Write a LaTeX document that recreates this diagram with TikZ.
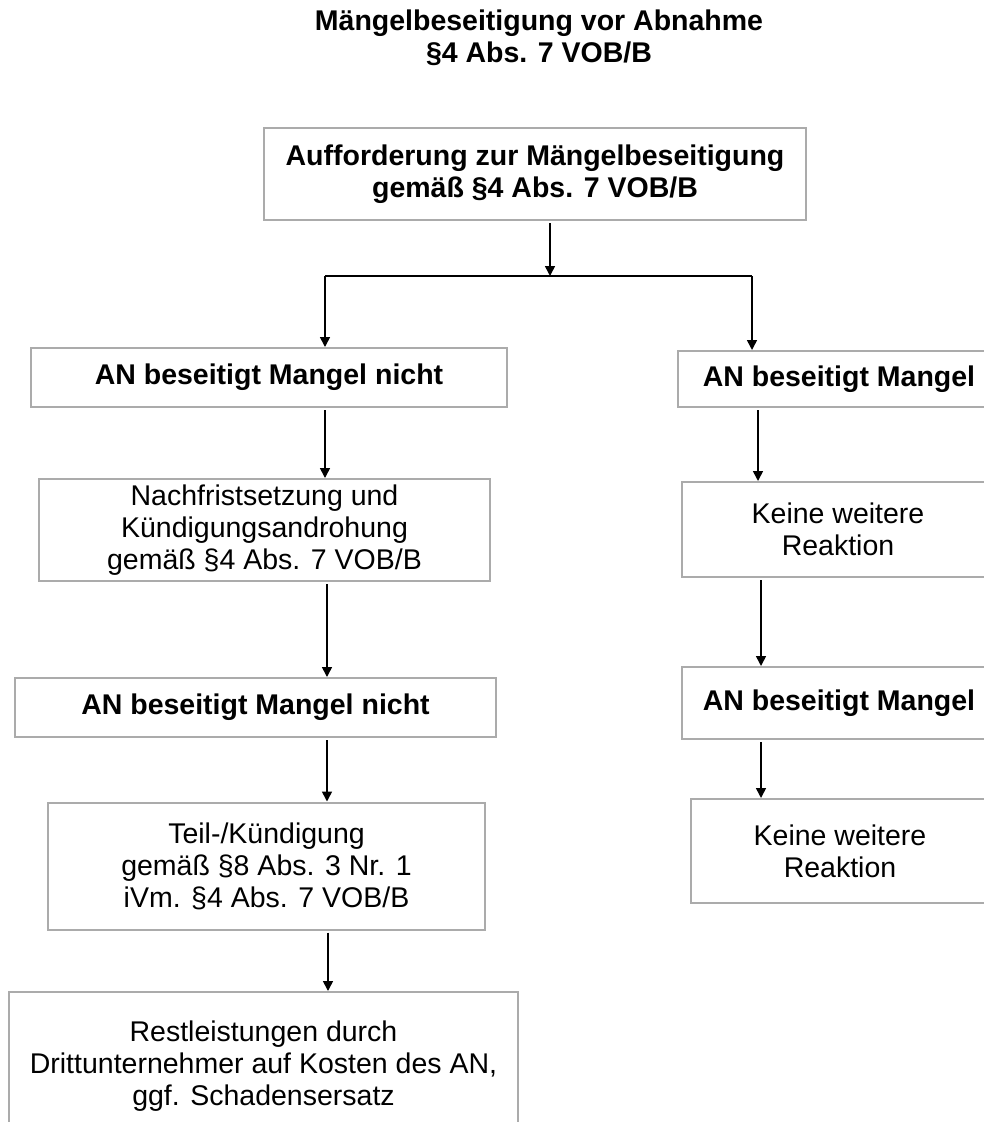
\documentclass[tikz,border=0pt]{standalone}
\usepackage{fontspec}
\setmainfont{Liberation Sans}
\usetikzlibrary{arrows.meta}
\definecolor{boxgray}{HTML}{ABABAB}
\tikzset{
  flowbox/.style={draw=boxgray, line width=2pt, rectangle, inner sep=0pt, align=center,
    font=\fontsize{28.5}{32}\selectfont},
  boldbox/.style={flowbox, font=\fontsize{28.5}{32}\selectfont\bfseries},
  arr/.style={draw=black, line width=1.6pt, -{Triangle[length=10pt,width=10pt]}},
  plainline/.style={draw=black, line width=1.6pt}
}
\begin{document}
\begin{tikzpicture}[x=1pt,y=-1pt]
\useasboundingbox (0,0) rectangle (984,1122);
\clip (0,0) rectangle (984,1122);
\fill[white] (0,0) rectangle (984,1122);

% title
\node[align=center, inner sep=0pt, font=\fontsize{28.5}{32}\selectfont\bfseries] (title) at (539,38)
  {Mängelbeseitigung vor Abnahme\\§4 Abs. 7 VOB/B};

% top box
\node[boldbox, minimum width=542pt, minimum height=92pt] (top) at (535,174)
  {Aufforderung zur Mängelbeseitigung\\gemäß §4 Abs. 7 VOB/B};

% left column
\node[boldbox, minimum width=476pt, minimum height=59pt] (l1) at (269,377.5) {AN beseitigt Mangel nicht};
\node[flowbox, minimum width=451pt, minimum height=102pt] (l2) at (264.5,530)
  {Nachfristsetzung und\\Kündigungsandrohung\\gemäß §4 Abs. 7 VOB/B};
\node[boldbox, minimum width=481pt, minimum height=59pt] (l3) at (255.5,707.5) {AN beseitigt Mangel nicht};
\node[flowbox, minimum width=437pt, minimum height=127pt] (l4) at (266.5,866)
  {Teil-/Kündigung\\gemäß §8 Abs. 3 Nr. 1\\iVm. §4 Abs. 7 VOB/B};
\node[flowbox, minimum width=509pt, minimum height=149pt] (l5) at (263.5,1066.5)
  {Restleistungen durch\\Drittunternehmer auf Kosten des AN,\\ggf. Schadensersatz};

% right column
\node[boldbox, minimum width=322pt, minimum height=56pt] (r1) at (839,379) {AN beseitigt Mangel};
\node[flowbox, minimum width=312pt, minimum height=95pt] (r2) at (838,529.5) {Keine weitere\\Reaktion};
\node[boldbox, minimum width=314pt, minimum height=72pt] (r3) at (839,703) {AN beseitigt Mangel};
\node[flowbox, minimum width=298pt, minimum height=104pt] (r4) at (840,851) {Keine weitere\\Reaktion};

% connector coordinates
\coordinate (jc) at (550,276);
\coordinate (jl) at (325,276);
\coordinate (jr) at (752,276);
\coordinate (xl1) at (325,0);
\coordinate (xl2) at (327,0);
\coordinate (xl3) at (328,0);
\coordinate (xr1) at (758,0);
\coordinate (xr2) at (761,0);

\draw[arr] ([yshift=-2pt]top.south -| jc) -- (jc);
\draw[plainline] (jl) -- (jr);
\draw[arr] (jl) -- (l1.north -| jl);
\draw[arr] (jr) -- (r1.north -| jr);

\draw[arr] ([yshift=-2pt]l1.south -| xl1) -- (l2.north -| xl1);
\draw[arr] ([yshift=-2pt]l2.south -| xl2) -- (l3.north -| xl2);
\draw[arr] ([yshift=-2pt]l3.south -| xl2) -- (l4.north -| xl2);
\draw[arr] ([yshift=-2pt]l4.south -| xl3) -- (l5.north -| xl3);

\draw[arr] ([yshift=-2pt]r1.south -| xr1) -- (r2.north -| xr1);
\draw[arr] ([yshift=-2pt]r2.south -| xr2) -- (r3.north -| xr2);
\draw[arr] ([yshift=-2pt]r3.south -| xr2) -- (r4.north -| xr2);
\end{tikzpicture}
\end{document}
